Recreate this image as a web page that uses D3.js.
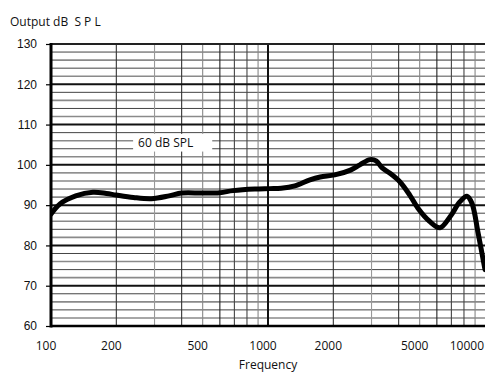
<!DOCTYPE html>
<html><head><meta charset="utf-8">
<script src="https://cdn.jsdelivr.net/npm/d3@7"></script>
<style>
html,body{margin:0;padding:0;background:#fff;}
svg{display:block;font-family:"Open Sans","Noto Sans",sans-serif;}
</style></head>
<body>
<svg id="c" width="485" height="373"></svg>
<script>
// ---- data ----
const freqs = [100,110,130,156,180,200,240,290,350,400,500,600,690,870,1020,1150,1330,1560,1740,2030,2400,2650,2950,3150,3350,3650,4050,4500,4900,5550,6200,6900,7650,8250,8700,9300,10000];
const levels = [87.8,90.3,92.3,93.2,92.9,92.5,91.9,91.6,92.3,93.0,93.0,93.1,93.6,94.0,94.1,94.2,94.8,96.3,97.0,97.5,98.7,100.0,101.3,101.0,99.3,97.9,95.8,92.5,89.3,86.0,84.4,87.1,90.8,92.2,90.5,83.0,74.0];
const xTickValues = [100,200,500,1000,2000,5000,10000];
const xTickLabels = ["100","200","500","1000","2000","5000","10000"];
const yTickValues = [60,70,80,90,100,110,120,130];
const minorFreqs = [200,300,400,500,600,700,800,900,2000,3000,4000,5000,6000,7000,8000,9000];
const legendText = "60 dB SPL";
const yTitle = "Output dB  S P L";
const xTitle = "Frequency";

// ---- layout ----
const W = 485, H = 373;
const m = {left:51, right:0, top:44, bottom:47};
const svg = d3.select("#c");
const x = d3.scaleLog().domain([100,10000]).range([m.left, W - m.right]);
const y = d3.scaleLinear().domain([60,130]).range([H - m.bottom, m.top]);

const g = svg.append("g");
// minor horizontal lines every 2 dB
const minorY = d3.range(62,130,2).filter(v => v % 10 !== 0);
g.selectAll(".hm").data(minorY).join("line")
  .attr("x1", m.left).attr("x2", W)
  .attr("y1", d => y(d)).attr("y2", d => y(d))
  .attr("stroke", (d,i) => (i % 2 === 0) ? "#8a8a8a" : "#444")
  .attr("stroke-width", (d,i) => (i % 2 === 0) ? 1.6 : 1);
// minor vertical lines
g.selectAll(".vm").data(minorFreqs).join("line")
  .attr("x1", d => x(d)).attr("x2", d => x(d))
  .attr("y1", y(130)).attr("y2", y(60))
  .attr("stroke", (d,i) => [ "#333","#999","#333","#888","#222","#444","#444","#888" ][i % 8])
  .attr("stroke-width", 1.1);
// major horizontal
g.selectAll(".hM").data(yTickValues.filter(v => v > 60 && v < 130)).join("line")
  .attr("x1", m.left).attr("x2", W)
  .attr("y1", d => y(d)).attr("y2", d => y(d))
  .attr("stroke", "#111").attr("stroke-width", 2);
// 1000 Hz major vertical
g.append("line").attr("x1", x(1000)).attr("x2", x(1000))
  .attr("y1", y(130)).attr("y2", y(60)).attr("stroke", "#111").attr("stroke-width", 2);
// top border
g.append("line").attr("x1", m.left).attr("x2", W).attr("y1", y(130)).attr("y2", y(130))
  .attr("stroke", "#222").attr("stroke-width", 2.2);

// legend box
const lx = x(252), ly = y(105.5);
const lt = svg.append("text").attr("x", 0).attr("y", 0).attr("font-size", 12).text(legendText);
const bw = lt.node().getComputedTextLength();
svg.insert("rect", "text").attr("x", lx - 5).attr("y", y(107.7)).attr("width", bw + 24).attr("height", y(103.3) - y(107.7)).attr("fill", "#fff");
lt.attr("x", lx).attr("y", ly).attr("dy", "0.35em").attr("fill", "#111").raise();

// curve
const clip = svg.append("clipPath").attr("id", "pc").append("rect")
  .attr("x", m.left).attr("y", m.top - 5).attr("width", W - m.left).attr("height", H - m.bottom - m.top + 5);
const line = d3.line().x(d => x(d[0])).y(d => y(d[1])).curve(d3.curveCatmullRom.alpha(0.5));
svg.append("path").datum(freqs.map((f,i) => [f, levels[i]]))
  .attr("clip-path", "url(#pc)")
  .attr("d", line).attr("fill", "none").attr("stroke", "#000")
  .attr("stroke-width", 5).attr("stroke-linejoin", "round").attr("stroke-linecap", "round");

// axes
const yAxis = svg.append("g").attr("transform", `translate(${m.left},0)`)
  .call(d3.axisLeft(y).tickValues(yTickValues).tickSize(5).tickPadding(9));
yAxis.select(".domain").remove();
yAxis.append("line").attr("x1", 0).attr("x2", 0).attr("y1", y(130) - 1).attr("y2", y(60) + 1.5)
  .attr("stroke", "#000").attr("stroke-width", 3);
yAxis.selectAll(".tick line").attr("stroke", "#000").attr("stroke-width", 1.2);
yAxis.selectAll(".tick text").attr("font-size", 12).attr("fill", "#111").attr("font-family", null);

svg.append("line").attr("x1", m.left).attr("x2", W).attr("y1", y(60)).attr("y2", y(60))
  .attr("stroke", "#000").attr("stroke-width", 2.6);

const xl = svg.append("g");
xl.selectAll("text").data(xTickValues).join("text")
  .attr("y", y(60) + 24)
  .attr("font-size", 12).attr("fill", "#111").attr("text-anchor", "middle")
  .text((d,i) => xTickLabels[i])
  .attr("x", function(d){ const w = this.getComputedTextLength(); return Math.min(x(d) - 5, W - 1 - w/2); });

svg.append("text").attr("x", 10).attr("y", 26).attr("font-size", 12).attr("fill", "#111")
  .style("white-space", "pre").text(yTitle);
svg.append("text").attr("x", (m.left + W) / 2).attr("y", H - 4).attr("font-size", 12)
  .attr("fill", "#111").attr("text-anchor", "middle").text(xTitle);
</script>
</body></html>
